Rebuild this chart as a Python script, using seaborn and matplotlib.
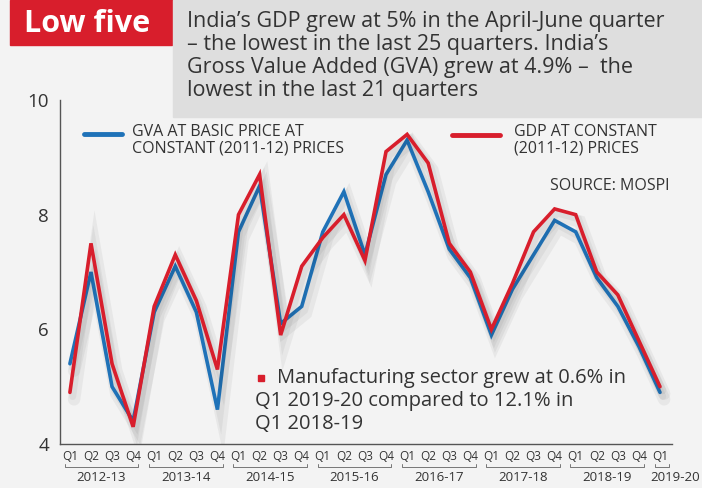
import numpy as np
import pandas as pd
import matplotlib
matplotlib.use("Agg")
import matplotlib.pyplot as plt
import matplotlib.patheffects as pe
from matplotlib.patches import Rectangle
import seaborn as sns

# --- data ---
quarters = ["Q1", "Q2", "Q3", "Q4"] * 7 + ["Q1"]
years = ["2012-13", "2013-14", "2014-15", "2015-16", "2016-17",
         "2017-18", "2018-19", "2019-20"]
gva = [5.4, 7.0, 5.0, 4.4, 6.3, 7.1, 6.3, 4.6, 7.7, 8.5, 6.1, 6.4, 7.7, 8.4,
       7.3, 8.7, 9.3, 8.4, 7.4, 6.9, 5.9, 6.7, 7.3, 7.9, 7.7, 6.9, 6.4, 5.7, 4.9]
gdp = [4.9, 7.5, 5.4, 4.3, 6.4, 7.3, 6.5, 5.3, 8.0, 8.7, 5.9, 7.1, 7.6, 8.0,
       7.2, 9.1, 9.4, 8.9, 7.5, 7.0, 6.0, 6.8, 7.7, 8.1, 8.0, 7.0, 6.6, 5.8, 5.0]

BLUE = "#1f72b8"
RED = "#d81e2c"
BG = "#f3f3f3"
TXT = "#333333"

W, H = 702, 488

def fx(x):
    return x / W

def fy(y):
    return 1 - y / H

df = pd.DataFrame({
    "idx": list(range(len(gva))) * 2,
    "growth": gva + gdp,
    "series": ["GVA"] * len(gva) + ["GDP"] * len(gdp),
})

sns.set_theme(style="white")
plt.rcParams["font.family"] = ["Open Sans", "DejaVu Sans"]

fig = plt.figure(figsize=(W / 100, H / 100), dpi=100, facecolor=BG)
ax = fig.add_axes([fx(60), fy(444), fx(672) - fx(60), fy(100) - fy(444)])
ax.set_facecolor(BG)

sns.lineplot(data=df, x="idx", y="growth", hue="series",
             palette={"GVA": BLUE, "GDP": RED}, hue_order=["GVA", "GDP"],
             linewidth=2.6, legend=False, ax=ax)

# soft drop shadow under the lines
shadow = [pe.SimpleLineShadow(offset=(3, -5), shadow_color="k", alpha=0.05, linewidth=9),
          pe.SimpleLineShadow(offset=(2, -3), shadow_color="k", alpha=0.05, linewidth=5),
          pe.Normal()]
for ln in ax.get_lines():
    ln.set_path_effects(shadow)
    ln.set_solid_joinstyle("miter")

ax.set_xlim(-0.47, 28.57)
ax.set_ylim(4, 10)
ax.set_xlabel("")
ax.set_ylabel("")

for s in ["top", "right"]:
    ax.spines[s].set_visible(False)
for s in ["left", "bottom"]:
    ax.spines[s].set_color("#555555")
    ax.spines[s].set_linewidth(1.0)

ax.set_yticks([4, 6, 8, 10])
ax.set_yticklabels(["4", "6", "8", "10"], fontsize=13.5, color=TXT)
ax.tick_params(axis="y", direction="in", length=9, width=0.8, color="#888888", pad=8)
ax.set_xticks(range(len(quarters)))
ax.set_xticklabels(quarters, fontsize=8.5, color=TXT)
ax.tick_params(axis="x", length=0, pad=4)

# year brackets under the quarter labels
trans = ax.get_xaxis_transform()
yb = -0.067
for i, yr in enumerate(years):
    last = i == len(years) - 1
    x0 = 4 * i - 0.25
    x1 = 4 * i + 0.45 if last else 4 * i + 3.25
    ax.plot([x0, x0, x1, x1], [yb + 0.008, yb, yb, yb + 0.008], transform=trans,
            color="#777777", lw=0.7, clip_on=False)
    xc = 4 * i - 0.45 if last else (x0 + x1) / 2
    ax.text(xc, yb - 0.012, yr, transform=trans, ha="left" if last else "center",
            va="top", fontsize=9.5, color=TXT, clip_on=False)

# header: red tag and grey note
fig.patches.append(Rectangle((fx(10), fy(45)), fx(172) - fx(10), fy(0) - fy(45),
                             transform=fig.transFigure, color=RED, zorder=5))
fig.text(fx(87), fy(24), "Low five", color="white", fontsize=22, fontweight="bold",
         ha="center", va="center", zorder=6)
fig.patches.append(Rectangle((fx(173), fy(117)), 1 - fx(173), fy(0) - fy(117),
                             transform=fig.transFigure, color="#dedede", zorder=5))
fig.text(fx(187), fy(11),
         "India\u2019s GDP grew at 5% in the April-June quarter\n"
         "\u2013 the lowest in the last 25 quarters. India\u2019s\n"
         "Gross Value Added (GVA) grew at 4.9% \u2013  the\n"
         "lowest in the last 21 quarters",
         fontsize=15.5, color=TXT, ha="left", va="top", linespacing=1.12, zorder=6)

# legend
fig.lines.append(plt.Line2D([fx(84), fx(122)], [fy(134), fy(134)], color=BLUE,
                            lw=3.5, solid_capstyle="round", transform=fig.transFigure))
fig.text(fx(132), fy(124), "GVA AT BASIC PRICE AT\nCONSTANT (2011-12) PRICES",
         fontsize=11.5, color=TXT, ha="left", va="top", linespacing=1.05)
fig.lines.append(plt.Line2D([fx(452), fx(500)], [fy(135), fy(135)], color=RED,
                            lw=3.5, solid_capstyle="round", transform=fig.transFigure))
fig.text(fx(514), fy(124), "GDP AT CONSTANT\n(2011-12) PRICES",
         fontsize=11.5, color=TXT, ha="left", va="top", linespacing=1.05)
fig.text(fx(669), fy(186), "SOURCE: MOSPI", fontsize=11.5, color=TXT,
         ha="right", va="center")

# note
fig.patches.append(Rectangle((fx(258), fy(381)), fx(6), fy(0) - fy(6),
                             transform=fig.transFigure, color=RED))
fig.text(fx(277), fy(378), "Manufacturing sector grew at 0.6% in", fontsize=14.5,
         color=TXT, ha="left", va="center")
fig.text(fx(255), fy(401), "Q1 2019-20 compared to 12.1% in", fontsize=14.5,
         color=TXT, ha="left", va="center")
fig.text(fx(255), fy(424), "Q1 2018-19", fontsize=14.5,
         color=TXT, ha="left", va="center")

fig.savefig("out.png", dpi=100, facecolor=BG)
